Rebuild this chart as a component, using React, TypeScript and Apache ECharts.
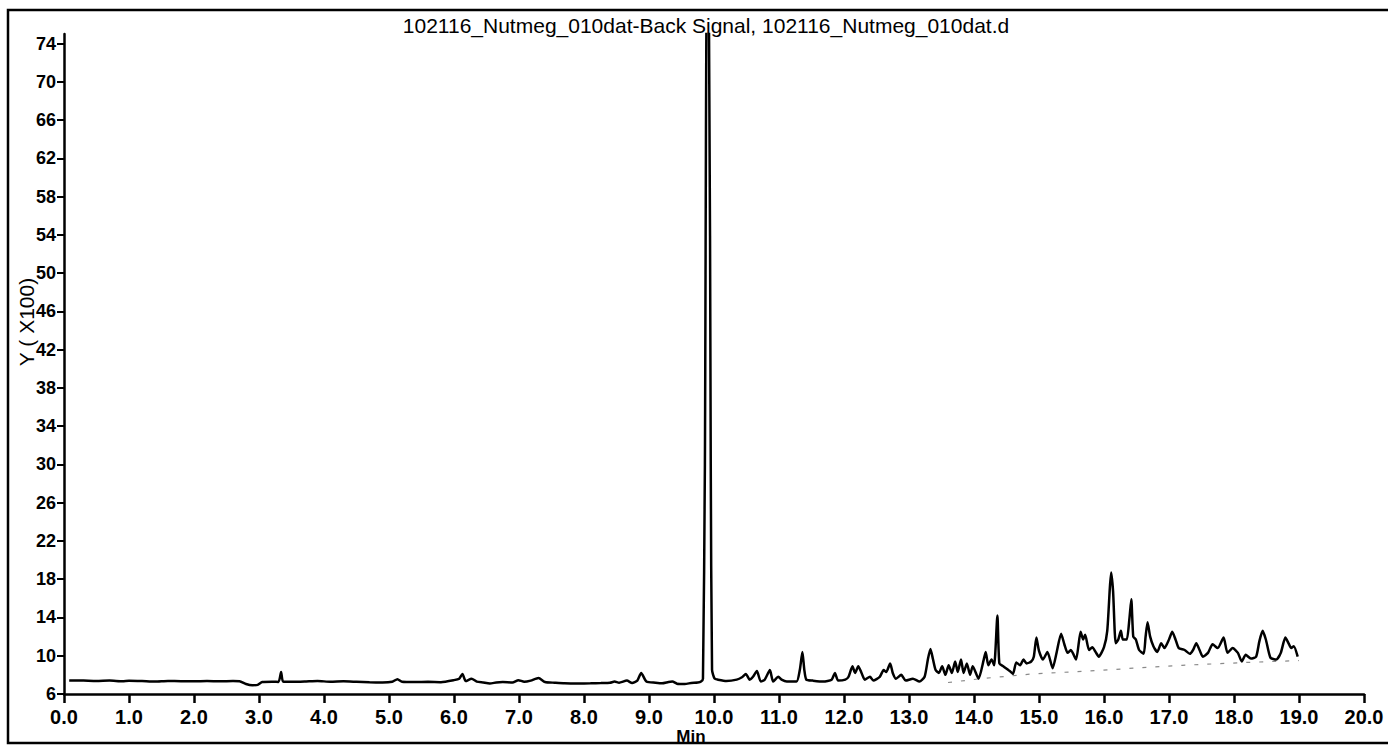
import React, { useEffect, useRef } from "react";
import * as echarts from "echarts";

// Retention time (min) and detector signal (Y x100)
const retentionTimes = [
  0.08, 0.3, 0.5, 0.7, 0.9, 1.0, 1.2, 1.4, 1.6, 1.8, 2.0, 2.2, 2.4, 2.6, 2.7, 2.8, 2.9, 2.98,
  3.05, 3.2, 3.3, 3.34, 3.37, 3.5, 3.7, 3.9, 4.1, 4.3, 4.5, 4.7, 4.9, 5.05, 5.13, 5.2, 5.4,
  5.6, 5.8, 6.0, 6.08, 6.13, 6.18, 6.27, 6.35, 6.45, 6.55, 6.65, 6.75, 6.9, 6.99, 7.08, 7.18,
  7.3, 7.4, 7.55, 7.7, 7.9, 8.1, 8.26, 8.4, 8.47, 8.54, 8.66, 8.74, 8.82, 8.88, 8.96, 9.1,
  9.2, 9.3, 9.36, 9.43, 9.55, 9.65, 9.75, 9.8, 9.83, 9.86, 9.89, 9.92, 9.95, 9.97, 10.01,
  10.06, 10.19, 10.35, 10.43, 10.49, 10.55, 10.6, 10.66, 10.72, 10.78, 10.86, 10.91, 10.99,
  11.04, 11.12, 11.27, 11.32, 11.36, 11.39, 11.42, 11.52, 11.68, 11.81, 11.86, 11.91, 12.02,
  12.07, 12.13, 12.17, 12.22, 12.27, 12.32, 12.4, 12.45, 12.55, 12.61, 12.65, 12.71, 12.75,
  12.8, 12.88, 12.95, 13.06, 13.16, 13.24, 13.29, 13.33, 13.37, 13.41, 13.46, 13.51, 13.56,
  13.61, 13.66, 13.71, 13.75, 13.8, 13.84, 13.89, 13.94, 13.98, 14.07, 14.15, 14.18, 14.22,
  14.27, 14.31, 14.36, 14.39, 14.45, 14.55, 14.6, 14.65, 14.71, 14.76, 14.81, 14.88, 14.92,
  14.96, 15.0, 15.06, 15.13, 15.21, 15.27, 15.34, 15.39, 15.44, 15.49, 15.57, 15.64, 15.68,
  15.71, 15.77, 15.82, 15.87, 15.92, 16.0, 16.05, 16.09, 16.11, 16.14, 16.18, 16.22, 16.26,
  16.29, 16.35, 16.39, 16.42, 16.45, 16.49, 16.54, 16.61, 16.64, 16.67, 16.71, 16.76, 16.82,
  16.88, 16.93, 17.0, 17.05, 17.1, 17.15, 17.24, 17.32, 17.37, 17.42, 17.47, 17.52, 17.6,
  17.67, 17.75, 17.84, 17.9, 17.98, 18.06, 18.12, 18.18, 18.26, 18.34, 18.39, 18.44, 18.49,
  18.56, 18.65, 18.72, 18.79, 18.84, 18.88, 18.92, 18.98,
];

const signalX100 = [
  7.42, 7.4, 7.36, 7.4, 7.34, 7.38, 7.35, 7.3, 7.36, 7.34, 7.33, 7.36, 7.32, 7.35, 7.34, 7.05, 6.92, 6.95,
  7.25, 7.28, 7.26, 8.3, 7.3, 7.27, 7.3, 7.36, 7.28, 7.32, 7.27, 7.22, 7.2, 7.28, 7.55, 7.28, 7.25,
  7.27, 7.24, 7.45, 7.6, 8.1, 7.35, 7.6, 7.3, 7.2, 7.1, 7.2, 7.25, 7.2, 7.45, 7.28, 7.4,
  7.68, 7.25, 7.18, 7.12, 7.1, 7.12, 7.15, 7.18, 7.3, 7.18, 7.4, 7.15, 7.4, 8.2, 7.3, 7.18,
  7.12, 7.25, 7.3, 7.08, 7.05, 7.15, 7.2, 7.3, 7.6, 30, 80, 80, 30, 8.5, 7.6,
  7.5, 7.36, 7.5, 7.75, 8.1, 7.5, 7.8, 8.4, 7.3, 7.5, 8.5, 7.3, 7.8,
  7.5, 7.3, 7.3, 8.5, 10.4, 8.5, 7.5, 7.4, 7.3, 7.5, 8.2, 7.4, 7.5,
  7.8, 8.9, 8.2, 8.9, 8.2, 7.5, 7.8, 7.4, 7.8, 8.5, 8.3, 9.2, 8.2,
  7.6, 8.0, 7.4, 7.6, 7.3, 7.8, 9.6, 10.7, 9.6, 8.5, 8.2, 8.9, 8.0,
  9.0, 8.2, 9.4, 8.3, 9.6, 8.2, 9.2, 8.0, 8.9, 7.6, 9.6, 10.4, 9.0,
  9.6, 9.0, 14.2, 9.2, 8.9, 8.4, 8.1, 9.3, 9.0, 9.6, 9.2, 9.4, 9.9,
  11.9, 10.5, 9.6, 10.4, 8.7, 10.3, 12.3, 11.2, 10.3, 10.6, 9.6, 12.5, 11.7,
  12.2, 10.6, 10.9, 10.4, 9.9, 10.9, 12.6, 17.1, 18.7, 16.7, 11.3, 11.7, 12.6,
  11.7, 11.7, 13.8, 15.9, 12.0, 11.7, 10.6, 10.2, 12.0, 13.5, 12.0, 11.0, 10.4,
  11.3, 10.8, 11.7, 12.5, 11.7, 10.8, 10.6, 10.2, 10.6, 11.3, 10.6, 9.9, 10.3,
  11.2, 10.8, 11.9, 10.3, 10.8, 10.3, 9.4, 10.1, 9.7, 9.9, 11.5, 12.6, 11.7,
  9.8, 9.6, 10.3, 11.9, 11.3, 10.8, 11.0, 9.9,
];

// Integration baseline (dashed)
const baselineTimes = [13.6, 14.1, 14.9, 15.9, 16.45, 17.2, 18.2, 19.0];
const baselineValues = [7.2, 7.6, 8.1, 8.45, 8.7, 9.0, 9.3, 9.5];

const yTicks = [6, 10, 14, 18, 22, 26, 30, 34, 38, 42, 46, 50, 54, 58, 62, 66, 70, 74];
const titleText = "102116_Nutmeg_010dat-Back Signal, 102116_Nutmeg_010dat.d";
const yName = "Y ( X100)";
const xName = "Min";

const FONT = '"Liberation Sans", Arial, Helvetica, sans-serif';

export default function App() {
  const ref = useRef<HTMLDivElement>(null);

  useEffect(() => {
    if (!ref.current) return;
    const chart = echarts.init(ref.current, null, { renderer: "svg" });

    const signal = retentionTimes.map((t, i) => [t, signalX100[i]]);
    const baseline = baselineTimes.map((t, i) => [t, baselineValues[i]]);

    chart.setOption({
      animation: false,
      backgroundColor: "#ffffff",
      grid: { left: 64, right: 24, top: 34, bottom: 52, containLabel: false },
      xAxis: {
        type: "value",
        min: 0,
        max: 20,
        interval: 1,
        axisLine: { show: true, onZero: false, lineStyle: { color: "#000", width: 2.5 } },
        axisTick: { show: true, inside: false, length: 9, lineStyle: { color: "#000", width: 2.5 } },
        axisLabel: {
          color: "#000",
          fontFamily: FONT,
          fontWeight: "bold",
          fontSize: 20,
          margin: 13,
          formatter: (v: number) => v.toFixed(1),
        },
        splitLine: { show: false },
      },
      yAxis: {
        type: "value",
        min: 6,
        max: 75,
        axisLine: { show: true, onZero: false, lineStyle: { color: "#000", width: 2.5 } },
        axisTick: {
          show: true,
          inside: false,
          length: 7,
          customValues: yTicks,
          lineStyle: { color: "#000", width: 2 },
        },
        axisLabel: {
          color: "#000",
          fontFamily: FONT,
          fontWeight: "bold",
          fontSize: 18,
          margin: 8,
          customValues: yTicks,
        },
        splitLine: { show: false },
      },
      graphic: [
        {
          type: "rect",
          silent: true,
          shape: { x: 8, y: 10, width: 1390, height: 733 },
          style: { fill: "none", stroke: "#000", lineWidth: 2.5 },
          z: 100,
        },
        {
          type: "text",
          x: 706,
          y: 25,
          silent: true,
          style: {
            text: titleText,
            fill: "#000",
            font: `21px ${FONT}`,
            align: "center",
            verticalAlign: "middle",
          },
          z: 100,
        },
        {
          type: "text",
          x: 26,
          y: 322,
          rotation: Math.PI / 2,
          silent: true,
          style: {
            text: yName,
            fill: "#000",
            font: `21px ${FONT}`,
            align: "center",
            verticalAlign: "middle",
          },
          z: 100,
        },
        {
          type: "text",
          x: 691,
          y: 736,
          silent: true,
          style: {
            text: xName,
            fill: "#000",
            font: `bold 17px ${FONT}`,
            align: "center",
            verticalAlign: "middle",
          },
          z: 100,
        },
      ],
      series: [
        {
          type: "line",
          data: baseline,
          showSymbol: false,
          silent: true,
          lineStyle: { color: "#8a8a8a", width: 1.2, type: [4, 9] },
          z: 1,
        },
        {
          type: "line",
          data: signal,
          showSymbol: false,
          silent: true,
          smooth: 0.2,
          clip: true,
          lineStyle: { color: "#000", width: 2.5 },
          z: 2,
        },
      ],
    });

    return () => chart.dispose();
  }, []);

  return (
    <div
      ref={ref}
      style={{ position: "fixed", left: 0, top: 0, width: 1388, height: 746, background: "#fff" }}
    />
  );
}
